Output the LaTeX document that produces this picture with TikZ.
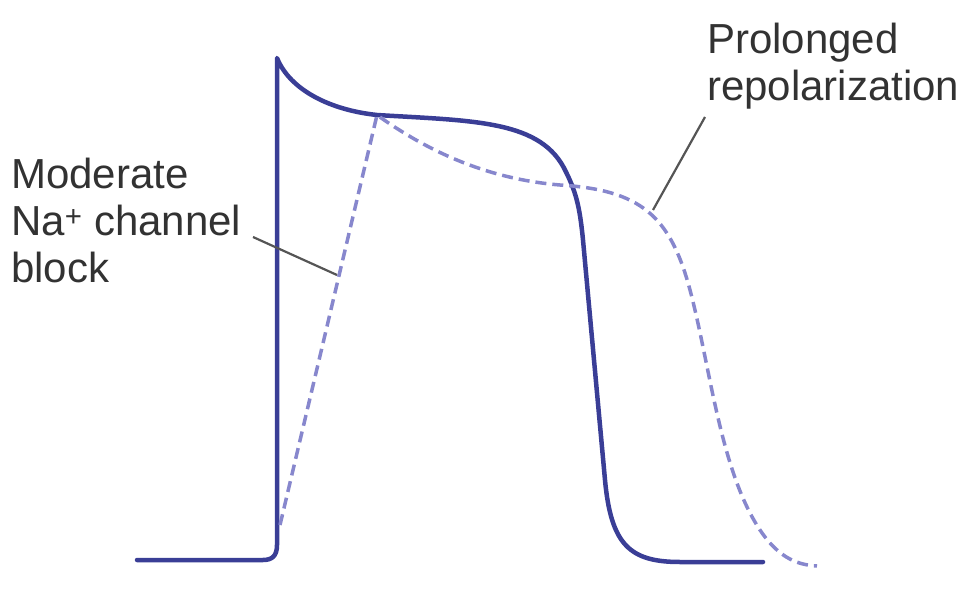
\documentclass[tikz,border=0pt]{standalone}
\usepackage{fontspec}
\setmainfont{Liberation Sans}
\usepackage{xcolor}
\definecolor{apblue}{RGB}{58,62,150}
\definecolor{apdash}{RGB}{135,135,205}
\definecolor{leadgray}{RGB}{85,85,85}
\definecolor{textgray}{RGB}{50,50,50}

\begin{document}
\begin{tikzpicture}[x=1pt, y=-1pt,
    apsolid/.style={draw=apblue, line width=4.5pt, line cap=round, line join=round},
    apdashed/.style={draw=apdash, line width=3.5pt, dash pattern=on 11pt off 6pt},
    leader/.style={draw=leadgray, line width=2.2pt},
    lbl/.style={inner sep=0pt, align=left, text=textgray, font=\fontsize{42}{47}\selectfont}]
    \useasboundingbox (0,0) rectangle (980,604);

    % Labels
    \node[lbl, anchor=north west] (natext) at (11,158) {Moderate\\Na\textsuperscript{+} channel\\block};
    \node[lbl, anchor=north west] (prtext) at (707,23) {Prolonged\\repolarization};

    % Normal action potential
    \draw[apsolid] (137,560) -- (263,560) .. controls (272,560) and (277,556) .. (277,545)
        -- (277,58) .. controls (290,90) and (330,110) .. (377,115)
        .. controls (475,121) and (542,120) .. (566,172)
        .. controls (577,194) and (580,210) .. (583,240)
        -- (605,480) .. controls (611,545) and (630,562) .. (680,562) -- (763,562);

    % Modified action potential
    \draw[apdashed] (280,525) -- (377,115)
        .. controls (440,160) and (500,180) .. (560,185)
        .. controls (640,190) and (670,215) .. (690,290)
        .. controls (710,365) and (720,470) .. (760,530)
        .. controls (780,560) and (800,565) .. (817,566);

    % Leader lines
    \coordinate (natip) at (253,237);
    \coordinate (nacurve) at (337,275);
    \coordinate (prtip) at (705,117);
    \coordinate (prcurve) at (653,210);
    \draw[leader] (natip) -- (nacurve);
    \draw[leader] (prtip) -- (prcurve);
\end{tikzpicture}
\end{document}
